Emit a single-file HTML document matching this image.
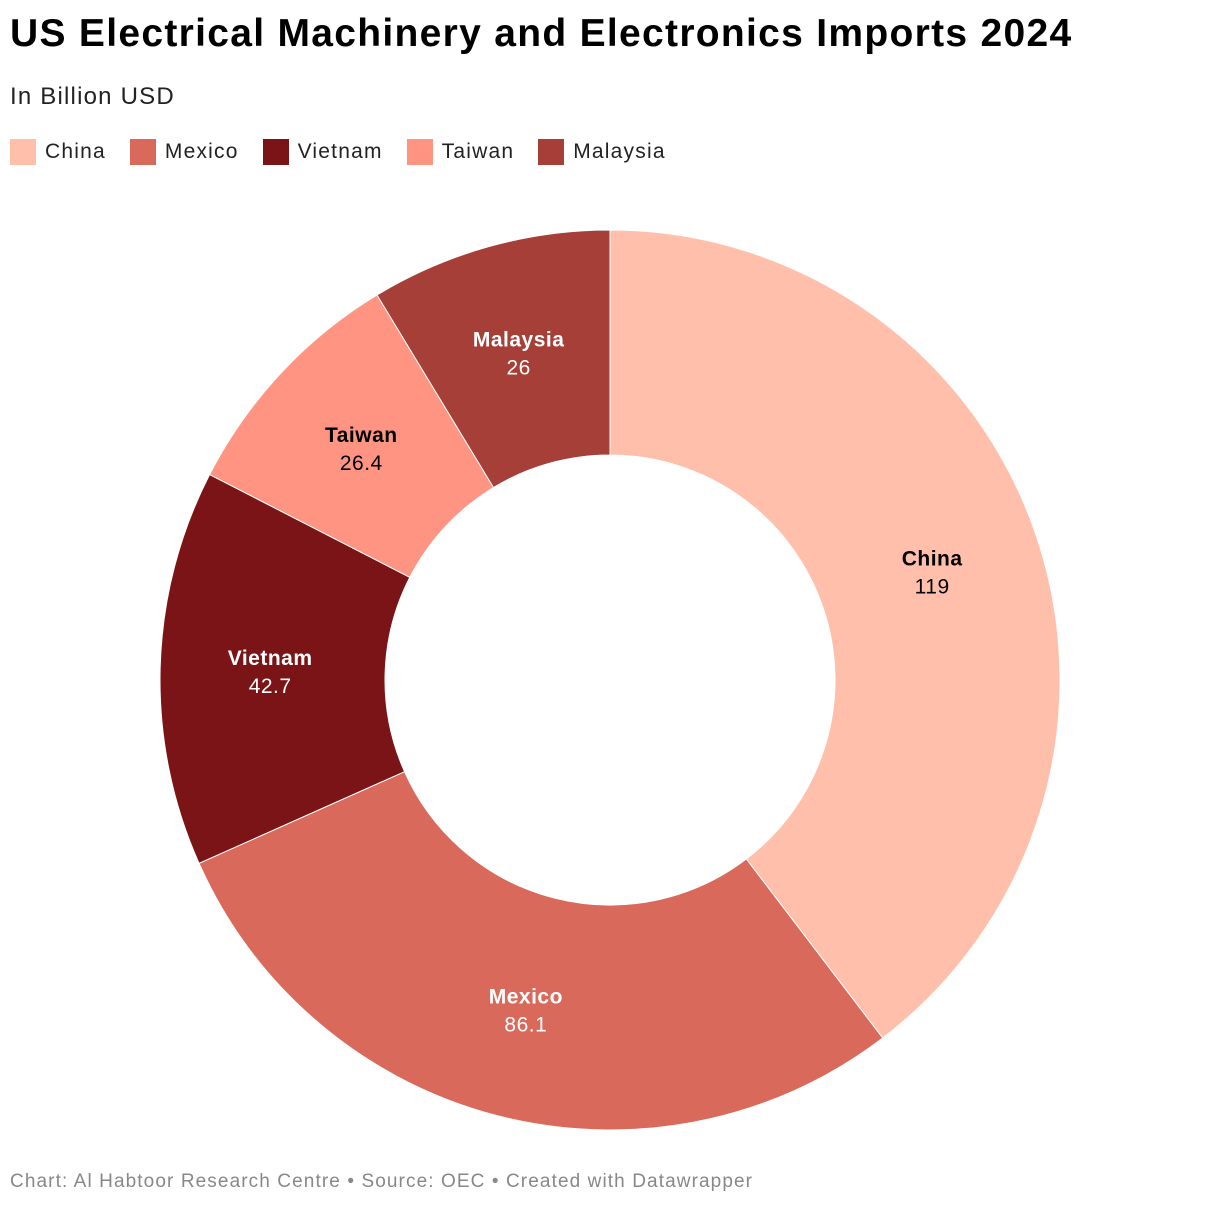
<!DOCTYPE html>
<html><head><meta charset="utf-8"><style>
body{margin:0;width:1220px;height:1206px;background:#fff;font-family:"Liberation Sans",sans-serif;position:relative;overflow:hidden}
#title{position:absolute;left:10px;top:12px;font-size:39px;font-weight:bold;color:#000;letter-spacing:1.3px}
#sub{position:absolute;left:10px;top:83px;font-size:24px;color:#222;letter-spacing:1.2px}
#legend{position:absolute;left:10px;top:139px;display:flex;gap:24px;font-size:21px;color:#222;letter-spacing:1.2px}
.li{display:flex;align-items:center;gap:9px}.sw{width:26px;height:26px}
#foot{position:absolute;left:10px;top:1171px;font-size:19px;color:#888;letter-spacing:1.1px}
svg{position:absolute;left:0;top:0}
text{letter-spacing:0.5px}
</style></head><body>
<div id="title">US Electrical Machinery and Electronics Imports 2024</div>
<div id="sub">In Billion USD</div>
<div id="legend"></div>
<svg id="chart" width="1220" height="1206"></svg>
<div id="foot">Chart: Al Habtoor Research Centre • Source: OEC • Created with Datawrapper</div>
<script>
const categories=["China","Mexico","Vietnam","Taiwan","Malaysia"];
const values=[119,86.1,42.7,26.4,26];
const labels=["119","86.1","42.7","26.4","26"];
const colors=["#ffbfab","#d9695a","#7b1416","#ff9482","#a53f37"];
const textColors=["#000","#fff","#fff","#000","#fff"];
const cx=610,cy=680,R=450,r=225,LR=340;
const svg=document.getElementById('chart'),ns="http://www.w3.org/2000/svg";
const total=values.reduce((a,b)=>a+b,0);
function pt(a,rad){return [cx+rad*Math.sin(a),cy-rad*Math.cos(a)];}
let acc=0;
const leg=document.getElementById('legend');
categories.forEach((c,i)=>{
 const a0=acc/total*2*Math.PI;acc+=values[i];const a1=acc/total*2*Math.PI;
 const lg=(a1-a0)>Math.PI?1:0;
 const [x0,y0]=pt(a0,R),[x1,y1]=pt(a1,R),[x2,y2]=pt(a1,r),[x3,y3]=pt(a0,r);
 const p=document.createElementNS(ns,'path');
 p.setAttribute('d',`M${x0},${y0}A${R},${R} 0 ${lg} 1 ${x1},${y1}L${x2},${y2}A${r},${r} 0 ${lg} 0 ${x3},${y3}Z`);
 p.setAttribute('fill',colors[i]);p.setAttribute('stroke','#fff');p.setAttribute('stroke-width','1');
 
 
 svg.appendChild(p);
 const [lx,ly]=pt((a0+a1)/2,LR);
 const t=document.createElementNS(ns,'text');
 t.setAttribute('x',lx);t.setAttribute('y',ly-6);t.setAttribute('text-anchor','middle');
 t.setAttribute('font-size','21');t.setAttribute('font-weight','bold');t.setAttribute('fill',textColors[i]);
 t.textContent=c;
 
 
 svg.appendChild(t);
 const v=document.createElementNS(ns,'text');
 v.setAttribute('x',lx);v.setAttribute('y',ly+22);v.setAttribute('text-anchor','middle');
 v.setAttribute('font-size','21');v.setAttribute('fill',textColors[i]);
 v.textContent=labels[i];
 
 
 svg.appendChild(v);
 const li=document.createElement('div');li.className='li';
 li.innerHTML=`<div class="sw" style="background:${colors[i]}"></div><span>${c}</span>`;
 
 
 leg.appendChild(li);
});
</script>
</body></html>
